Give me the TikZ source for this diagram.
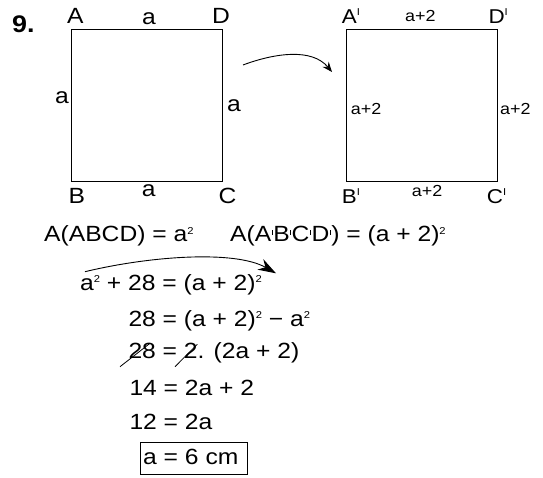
\documentclass[tikz,border=0pt]{standalone}
\usepackage{fontspec}
\setmainfont{Liberation Sans}[FakeStretch=1.12]
\usetikzlibrary{arrows.meta}
\newcommand\sqd{\raisebox{7.5pt}{\fontsize{10}{10}\selectfont 2}}
\newcommand\prm{\kern0.6pt\raisebox{7pt}{\rule{0.8pt}{5pt}}\kern0.6pt}
\newcommand\supI{\raisebox{8pt}{\fontsize{10}{10}\selectfont I}}
\begin{document}
\begin{tikzpicture}[x=1pt,y=-1pt,
  txt/.style={inner sep=0pt, anchor=base west},
  big/.style={txt, font=\fontsize{22}{22}\selectfont},
  mid/.style={txt, font=\fontsize{20}{20}\selectfont},
  sml/.style={txt, font=\fontsize{16}{16}\selectfont},
  num/.style={txt, font=\fontsize{24}{24}\selectfont\bfseries},
  side/.style={draw, line width=1.2pt, inner sep=0pt, anchor=north west},
  arrA/.style={line width=0.9pt, -{Stealth[length=10pt,width=8pt]}},
  arrB/.style={line width=0.9pt, -{Stealth[length=18pt,width=12pt]}},
  cancel/.style={line width=0.8pt}]
\useasboundingbox (0,0) rectangle (543,478);
% squares
\node[side, minimum width=151pt, minimum height=152pt] (sq1) at (71,29) {};
\node[side, minimum width=151pt, minimum height=152pt] (sq2) at (346,29) {};
% labels square 1
\node[num] (n9) at (12,33) {9.};
\node[big] (lA) at (67,23.3) {A};
\node[big] (lD) at (212,23.3) {D};
\node[big] (lB) at (68.3,203.3) {B};
\node[big] (lC) at (218.3,203.3) {C};
\node[big] (ta) at (142,25) {a};
\node[big] (la) at (55,104) {a};
\node[big] (ra) at (227,111.7) {a};
\node[big] (ba) at (141.7,197) {a};
% labels square 2
\node[mid] (mA) at (341.7,23.3) {A\supI};
\node[mid] (mD) at (488.3,23.3) {D\supI};
\node[mid] (mB) at (341.7,204) {B\supI};
\node[mid] (mC) at (486.7,204) {C\supI};
\node[sml] (tb) at (405,21.7) {a+2};
\node[sml] (lb) at (350.7,115) {a+2};
\node[sml] (rb) at (500,115) {a+2};
\node[sml] (bb) at (411.7,196.7) {a+2};
% arrow between squares
\coordinate (r1s) at (243,65);
\coordinate (r1e) at (332,72);
\draw[arrA] (r1s) .. controls (275,53) and (312,48) .. (r1e);
% equations
\node[big] (e1a) at (44,241.7) {A(ABCD) = a\sqd};
\node[big] (e1b) at (230,241.7) {A(A\prm B\prm C\prm D\prm) = (a + 2)\sqd};
\node[big] (e2) at (80,290) {a\sqd{} + 28 = (a + 2)\sqd};
\node[big] (e3) at (128.3,326) {28 = (a + 2)\sqd{} − a\sqd};
\node[big] (e4) at (128.3,358.3) {28 = 2. (2a + 2)};
\node[big] (e5) at (129.3,395) {14 = 2a + 2};
\node[big] (e6) at (129.3,429) {12 = 2a};
\node[big] (e7) at (143,464) {a = 6 cm};
\node[draw, line width=0.9pt, inner sep=0pt, minimum width=107pt, minimum height=32pt, anchor=north west] (box) at (140,442.3) {};
% arrow over line 2
\coordinate (r2s) at (85,271.7);
\coordinate (r2e) at (276,273.3);
\draw[arrB] (r2s) .. controls (150,256) and (235,250) .. (r2e);
% cancel strokes
\coordinate (c1a) at (120,366.7);
\coordinate (c1b) at (150,343.3);
\coordinate (c2a) at (175,366.7);
\coordinate (c2b) at (197.3,344.3);
\draw[cancel] (c1a) -- (c1b);
\draw[cancel] (c2a) -- (c2b);
\end{tikzpicture}
\end{document}
